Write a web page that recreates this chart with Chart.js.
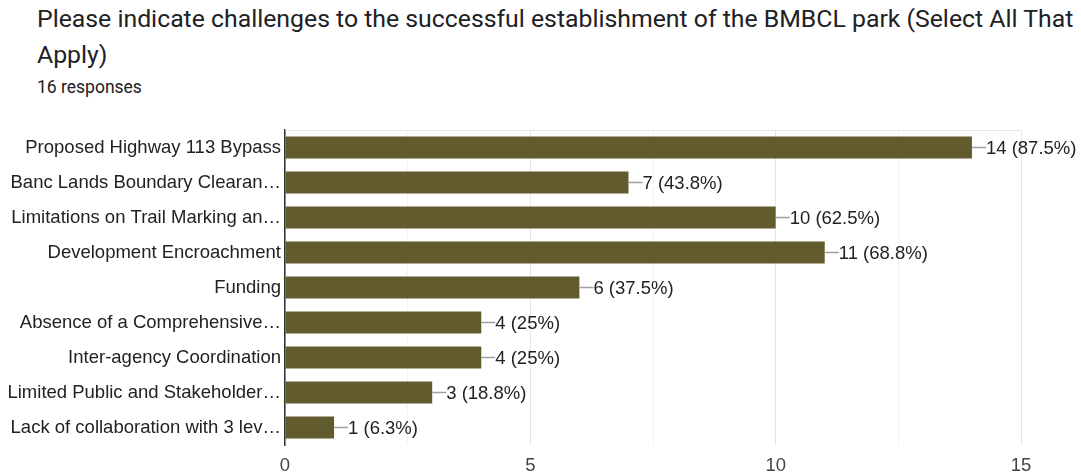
<!DOCTYPE html>
<html>
<head>
<meta charset="utf-8">
<script src="https://cdn.jsdelivr.net/npm/chart.js@4"></script>
<style>
  body { margin: 0; background: #fff; width: 1081px; height: 475px; overflow: hidden; position: relative; }
  #title { position: absolute; left: 37px; top: 1px; width: 1042px; font-family: Roboto, sans-serif; font-size: 24.8px; line-height: 36px; color: #202124; }
  #sub { position: absolute; left: 37px; top: 77px; font-family: Roboto, sans-serif; font-size: 17.5px; color: #202124; }
  #wrap { position: absolute; left: 0; top: 110px; width: 1081px; height: 370px; }
</style>
</head>
<body>
<div id="title">Please indicate challenges to the successful establishment of the BMBCL park (Select All That Apply)</div>
<div id="sub">16 responses</div>
<div id="wrap"><canvas id="my-chart"></canvas></div>
<script>
const categories = [
  'Proposed Highway 113 Bypass',
  'Banc Lands Boundary Clearan\u2026',
  'Limitations on Trail Marking an\u2026',
  'Development Encroachment',
  'Funding',
  'Absence of a Comprehensive\u2026',
  'Inter-agency Coordination',
  'Limited Public and Stakeholder\u2026',
  'Lack of collaboration with 3 lev\u2026'
];
const counts = [14, 7, 10, 11, 6, 4, 4, 3, 1];
const percents = ['87.5%', '43.8%', '62.5%', '68.8%', '37.5%', '25%', '25%', '18.8%', '6.3%'];
const xTicks = [0, 5, 10, 15];

const chartFont = '"Liberation Sans", Arial, sans-serif';

const valueLabels = {
  id: 'valueLabels',
  beforeDatasetsDraw(chart) {
    // light top border of the plot
    const { ctx, chartArea } = chart;
    ctx.save();
    ctx.strokeStyle = '#e6e6e6';
    ctx.lineWidth = 1;
    ctx.beginPath();
    ctx.moveTo(chartArea.left, chartArea.top + 0.5);
    ctx.lineTo(chartArea.right, chartArea.top + 0.5);
    ctx.stroke();
    ctx.restore();
  },
  afterDatasetsDraw(chart) {
    const ctx = chart.ctx;
    const meta = chart.getDatasetMeta(0);
    ctx.save();
    ctx.font = '18.5px ' + chartFont;
    ctx.textBaseline = 'middle';
    meta.data.forEach((bar, i) => {
      ctx.strokeStyle = '#a0a0a0';
      ctx.lineWidth = 1.5;
      ctx.beginPath();
      ctx.moveTo(bar.x, bar.y);
      ctx.lineTo(bar.x + 14, bar.y);
      ctx.stroke();
      ctx.fillStyle = '#222';
      ctx.fillText(counts[i] + ' (' + percents[i] + ')', bar.x + 14, bar.y + 1);
    });
    ctx.restore();
  }
};

const ctx = document.getElementById('my-chart').getContext('2d');
const chart = new Chart(ctx, {
  type: 'bar',
  data: {
    labels: categories,
    datasets: [{
      data: counts,
      backgroundColor: '#625b2d',
      borderWidth: 0,
      barPercentage: 0.63,
      categoryPercentage: 1
    }]
  },
  options: {
    indexAxis: 'y',
    responsive: true,
    maintainAspectRatio: false,
    animation: false,
    layout: { padding: { top: 20, right: 60, bottom: 0, left: 0 } },
    plugins: { legend: { display: false }, tooltip: { enabled: false } },
    scales: {
      x: {
        min: 0, max: 15,
        afterFit(scale) { scale.height = 35; },
        ticks: {
          stepSize: 2.5,
          autoSkip: false,
          maxRotation: 0,
          padding: 10,
          color: '#444',
          font: { family: chartFont, size: 18.5 },
          callback: v => xTicks.includes(v) ? v : ''
        },
        grid: {
          drawTicks: false,
          color: c => (c.tick && c.tick.value % 5 === 0) ? '#e6e6e6' : '#f3f3f3'
        },
        border: { display: false }
      },
      y: {
        afterFit(scale) { scale.width = 285; },
        ticks: {
          padding: 4,
          color: '#222',
          font: { family: chartFont, size: 18.5 }
        },
        grid: { display: false, drawTicks: false },
        border: { display: true, color: '#333', width: 1.5 }
      }
    }
  },
  plugins: [valueLabels]
});
</script>
</body>
</html>
